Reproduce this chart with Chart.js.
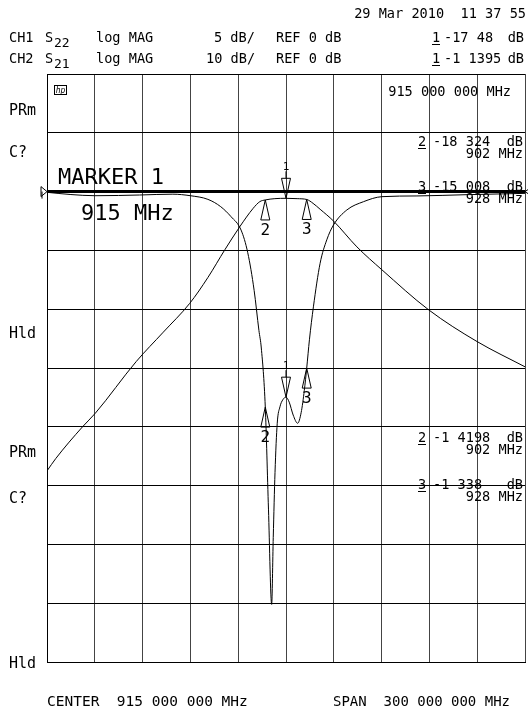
<!DOCTYPE html>
<html>
<head>
<meta charset="utf-8">
<script src="https://cdn.jsdelivr.net/npm/chart.js@4.4.1/dist/chart.umd.min.js"></script>
<style>
  html, body { margin: 0; padding: 0; background: #fff; }
</style>
</head>
<body>
<canvas id="chart" width="528" height="712"></canvas>
<script>
// sweep: center 915 MHz, span 300 MHz
const freqMin = 765;
const freqMax = 1065;

// CH1 S22, 5 dB/div
const s22Freq = [765, 780, 795, 810, 823, 844, 855, 866, 874, 880.5, 886.8, 891, 895, 898, 899.5, 902, 904, 906, 907, 908.1, 909.5, 911.2, 913, 915, 917, 919.5, 922.3, 924.5, 926.5, 928, 929.7, 932.2, 936.4, 940.6, 944.8, 953.2, 963.6, 975.2, 997.2, 1028.7, 1065];
const s22Db = [-0.06, -0.25, -0.35, -0.33, -0.29, -0.22, -0.35, -0.66, -1.28, -2.13, -3.27, -5.2, -8.4, -11.8, -13.3, -18.32, -27, -35.1, -29.4, -23.9, -19.7, -18.3, -17.7, -17.48, -17.9, -19.0, -19.7, -18.8, -16.9, -15.01, -12.6, -9.8, -6.1, -4.1, -2.84, -1.56, -0.86, -0.43, -0.37, -0.26, -0.15];

// CH2 S21, 10 dB/div
const s21Freq = [765, 770.5, 787.3, 795.3, 821, 838, 854.6, 866, 876.6, 886, 894.4, 898.6, 902, 908, 915, 922, 928, 932, 936.4, 944.8, 959.5, 975.2, 1004.5, 1034.9, 1065];
const s21Db = [-47.5, -45.4, -40, -37.7, -28.9, -23.9, -19.0, -14.6, -9.9, -5.97, -2.84, -1.7, -1.42, -1.2, -1.14, -1.2, -1.34, -2.0, -3.0, -5.0, -9.4, -13.3, -20.1, -25.5, -29.8];

// markers 1, 2, 3
const markerFreq = [915, 902, 928];
const markerS22 = [-17.48, -18.324, -15.008];
const markerS21 = [-1.1395, -1.4198, -1.338];

const FONT = '"DejaVu Sans Mono", monospace';

function pts(xs, ys) {
  return xs.map((f, i) => ({ x: f, y: ys[i] }));
}

function put(ctx, s, x, y, size, align) {
  ctx.font = size + "px " + FONT;
  ctx.textAlign = align || "left";
  ctx.fillText(s, x, y);
}

function underline(ctx, x, y, w) {
  ctx.beginPath();
  ctx.moveTo(x, y + 2.5);
  ctx.lineTo(x + w, y + 2.5);
  ctx.stroke();
}

function marker(ctx, px, py, label, active) {
  ctx.lineWidth = 1;
  ctx.beginPath();
  if (active) {
    ctx.moveTo(px, py);
    ctx.lineTo(px - 4.5, py - 20);
    ctx.lineTo(px + 4.5, py - 20);
    ctx.closePath();
    ctx.moveTo(px, py - 20);
    ctx.lineTo(px, py - 27);
  } else {
    ctx.moveTo(px, py);
    ctx.lineTo(px - 4.5, py + 20);
    ctx.lineTo(px + 4.5, py + 20);
    ctx.closePath();
  }
  ctx.stroke();
  if (active) put(ctx, label, px, py - 28, 11, "center");
  else put(ctx, label, px, py + 35, 16, "center");
}

const overlay = {
  id: "overlay",
  afterDraw(chart) {
    const { ctx } = chart;
    const x = chart.scales.x, y = chart.scales.y, y2 = chart.scales.y2;
    ctx.save();
    ctx.fillStyle = "#000";
    ctx.strokeStyle = "#000";
    ctx.lineWidth = 1;

    // header
    put(ctx, "29 Mar 2010  11 37 55", 526, 18, 13.6, "right");
    put(ctx, "CH1", 9, 42, 13.6);
    put(ctx, "S", 45, 42, 13.6);
    put(ctx, "22", 54, 47, 13);
    put(ctx, "log MAG", 96, 42, 13.6);
    put(ctx, "5 dB/", 214, 42, 13.6);
    put(ctx, "REF 0 dB", 276, 42, 13.6);
    put(ctx, "1", 432, 42, 13.6);
    put(ctx, "-17 48", 444, 42, 13.6);
    put(ctx, "dB", 524, 42, 13.6, "right");
    put(ctx, "CH2", 9, 63, 13.6);
    put(ctx, "S", 45, 63, 13.6);
    put(ctx, "21", 54, 68, 13);
    put(ctx, "log MAG", 96, 63, 13.6);
    put(ctx, "10 dB/", 206, 63, 13.6);
    put(ctx, "REF 0 dB", 276, 63, 13.6);
    put(ctx, "1", 432, 63, 13.6);
    put(ctx, "-1 1395", 444, 63, 13.6);
    put(ctx, "dB", 524, 63, 13.6, "right");
    underline(ctx, 432, 42, 8);
    underline(ctx, 432, 63, 8);

    // left status labels
    put(ctx, "PRm", 9, 115, 15);
    put(ctx, "C?", 9, 157, 15);
    put(ctx, "Hld", 9, 338, 15);
    put(ctx, "PRm", 9, 457, 15);
    put(ctx, "C?", 9, 503, 15);
    put(ctx, "Hld", 9, 668, 15);

    // hp logo
    ctx.strokeRect(54.5, 85.5, 12, 9);
    ctx.font = "italic 8px " + FONT;
    ctx.textAlign = "center";
    ctx.fillText("hp", 60.5, 93);

    // marker readout
    put(ctx, "MARKER 1", 58, 184, 22);
    put(ctx, "915 MHz", 81, 220, 22);
    put(ctx, "915 000 000 MHz", 511, 96, 13.6, "right");
    const rows = [
      ["2", "-18 324", "902 MHz", 146],
      ["3", "-15 008", "928 MHz", 191],
      ["2", "-1 4198", "902 MHz", 442],
      ["3", "-1 338 ", "928 MHz", 489],
    ];
    rows.forEach((r) => {
      put(ctx, r[0], 418, r[3], 13.6);
      underline(ctx, 418, r[3], 8);
      put(ctx, r[1], 433, r[3], 13.6);
      put(ctx, "dB", 523, r[3], 13.6, "right");
      put(ctx, r[2], 523, r[3] + 12, 13.6, "right");
    });

    // reference position symbols
    const ry = y.getPixelForValue(0);
    ctx.beginPath();
    ctx.moveTo(41, ry - 5);
    ctx.lineTo(47, ry);
    ctx.lineTo(41, ry + 5);
    ctx.closePath();
    ctx.moveTo(42, ry);
    ctx.lineTo(42, ry + 7);
    ctx.stroke();
    ctx.beginPath();
    ctx.moveTo(531, ry - 4);
    ctx.lineTo(525, ry);
    ctx.lineTo(531, ry + 4);
    ctx.stroke();

    // markers on both traces
    markerFreq.forEach((f, i) => {
      const px = x.getPixelForValue(f);
      marker(ctx, px, y2.getPixelForValue(markerS21[i]), String(i + 1), i === 0);
      marker(ctx, px, y.getPixelForValue(markerS22[i]), String(i + 1), i === 0);
    });

    // bottom stimulus line
    put(ctx, "CENTER  915 000 000 MHz", 47, 706, 14.5);
    put(ctx, "SPAN  300 000 000 MHz", 510, 706, 14, "right");
    ctx.restore();
  }
};

new Chart(document.getElementById("chart"), {
  type: "line",
  data: {
    datasets: [
      {
        label: "S22",
        data: pts(s22Freq, s22Db),
        yAxisID: "y",
        borderColor: "#000",
        borderWidth: 1,
        pointRadius: 0,
        cubicInterpolationMode: "monotone",
      },
      {
        label: "S21",
        data: pts(s21Freq, s21Db),
        yAxisID: "y2",
        borderColor: "#000",
        borderWidth: 1,
        pointRadius: 0,
        cubicInterpolationMode: "monotone",
      },
    ],
  },
  options: {
    responsive: false,
    animation: false,
    devicePixelRatio: 1,
    layout: { padding: { left: 47, top: 74, right: 3, bottom: 50 } },
    plugins: { legend: { display: false }, tooltip: { enabled: false } },
    scales: {
      x: {
        type: "linear",
        min: freqMin,
        max: freqMax,
        ticks: { stepSize: 30, display: false },
        grid: { color: "#444", lineWidth: 1, drawTicks: false },
        border: { color: "#000", width: 1 },
        afterFit: (s) => { s.height = 0; },
      },
      y: {
        min: -40,
        max: 10,
        ticks: { stepSize: 5, display: false },
        grid: {
          color: "#000",
          lineWidth: (c) => (c.tick && c.tick.value === 0 ? 3 : 1),
          drawTicks: false,
        },
        border: { color: "#000", width: 1 },
        afterFit: (s) => { s.width = 0; },
      },
      y2: {
        display: false,
        min: -80,
        max: 20,
      },
    },
  },
  plugins: [overlay],
});
</script>
</body>
</html>
